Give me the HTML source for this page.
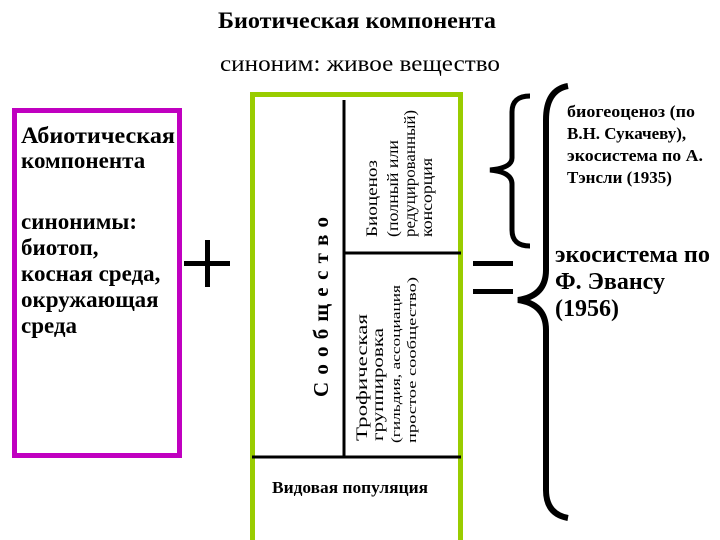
<!DOCTYPE html>
<html><head><meta charset="utf-8"><style>
html,body{margin:0;padding:0;background:#fff;width:720px;height:540px;overflow:hidden}
svg{display:block}
text{font-family:"Liberation Serif",serif;fill:#000}
</style></head><body>
<svg width="720" height="540" viewBox="0 0 720 540" xmlns="http://www.w3.org/2000/svg">
<text x="218" y="28" font-size="23" font-weight="bold" textLength="278" lengthAdjust="spacingAndGlyphs">Биотическая компонента</text>
<text x="220" y="71" font-size="23" textLength="280" lengthAdjust="spacingAndGlyphs">синоним: живое вещество</text>

<rect x="14.5" y="110.5" width="165" height="345" fill="none" stroke="#c000c0" stroke-width="5"/>
<g font-size="23" font-weight="bold">
<text x="21" y="143" textLength="154" lengthAdjust="spacingAndGlyphs">Абиотическая</text>
<text x="21" y="168">компонента</text>
<text x="21" y="229">синонимы:</text>
<text x="21" y="255">биотоп,</text>
<text x="21" y="281">косная среда,</text>
<text x="21" y="307">окружающая</text>
<text x="21" y="333">среда</text>
</g>

<rect x="184" y="261" width="46" height="5" fill="#000"/>
<rect x="205" y="240" width="5" height="47" fill="#000"/>

<rect x="252.5" y="94.5" width="208" height="450" fill="none" stroke="#99cc00" stroke-width="5"/>
<line x1="252" y1="457" x2="461" y2="457" stroke="#000" stroke-width="3"/>
<line x1="344" y1="100" x2="344" y2="457" stroke="#000" stroke-width="3"/>
<line x1="344" y1="253" x2="461" y2="253" stroke="#000" stroke-width="3"/>

<text transform="translate(328,397) rotate(-90)" font-size="21" font-weight="bold" textLength="180" lengthAdjust="spacing">Сообщество</text>

<g font-size="16">
<text transform="translate(377,237) rotate(-90)" textLength="77" lengthAdjust="spacingAndGlyphs">Биоценоз</text>
<text transform="translate(398,237) rotate(-90)" textLength="97" lengthAdjust="spacingAndGlyphs">(полный или</text>
<text transform="translate(415,237) rotate(-90)" textLength="127" lengthAdjust="spacingAndGlyphs">редуцированный)</text>
<text transform="translate(432,237) rotate(-90)" textLength="79" lengthAdjust="spacingAndGlyphs">консорция</text>
<text transform="translate(367,441) rotate(-90)" textLength="127" lengthAdjust="spacingAndGlyphs">Трофическая</text>
<text transform="translate(383,441) rotate(-90)" textLength="113" lengthAdjust="spacingAndGlyphs">группировка</text>
<text transform="translate(400,443) rotate(-90)" font-size="13" textLength="158" lengthAdjust="spacingAndGlyphs">(гильдия, ассоциация</text>
<text transform="translate(416,443) rotate(-90)" font-size="13" textLength="166" lengthAdjust="spacingAndGlyphs">простое сообщество)</text>
</g>

<text x="272" y="493" font-size="17" font-weight="bold" textLength="156" lengthAdjust="spacingAndGlyphs">Видовая популяция</text>

<rect x="473" y="261" width="40" height="5" fill="#000"/>
<rect x="473" y="289" width="40" height="5" fill="#000"/>

<path d="M530 96 Q512 96 512 112 L512 158 Q512 168 490 170 Q512 172 512 184 L512 230 Q512 246 530 246" fill="none" stroke="#000" stroke-width="5"/>
<path d="M568 86 Q546 90 546 120 L546 270 Q546 296 518 300 Q546 304 546 330 L546 490 Q546 514 568 518" fill="none" stroke="#000" stroke-width="6"/>

<g font-size="17" font-weight="bold">
<text x="567" y="117" textLength="128" lengthAdjust="spacingAndGlyphs">биогеоценоз (по</text>
<text x="567" y="139">В.Н. Сукачеву),</text>
<text x="567" y="161" textLength="136" lengthAdjust="spacingAndGlyphs">экосистема по А.</text>
<text x="567" y="183">Тэнсли (1935)</text>
</g>
<g font-size="24" font-weight="bold">
<text x="555" y="262" textLength="155" lengthAdjust="spacingAndGlyphs">экосистема по</text>
<text x="555" y="289">Ф. Эвансу</text>
<text x="555" y="316">(1956)</text>
</g>
</svg>
</body></html>
